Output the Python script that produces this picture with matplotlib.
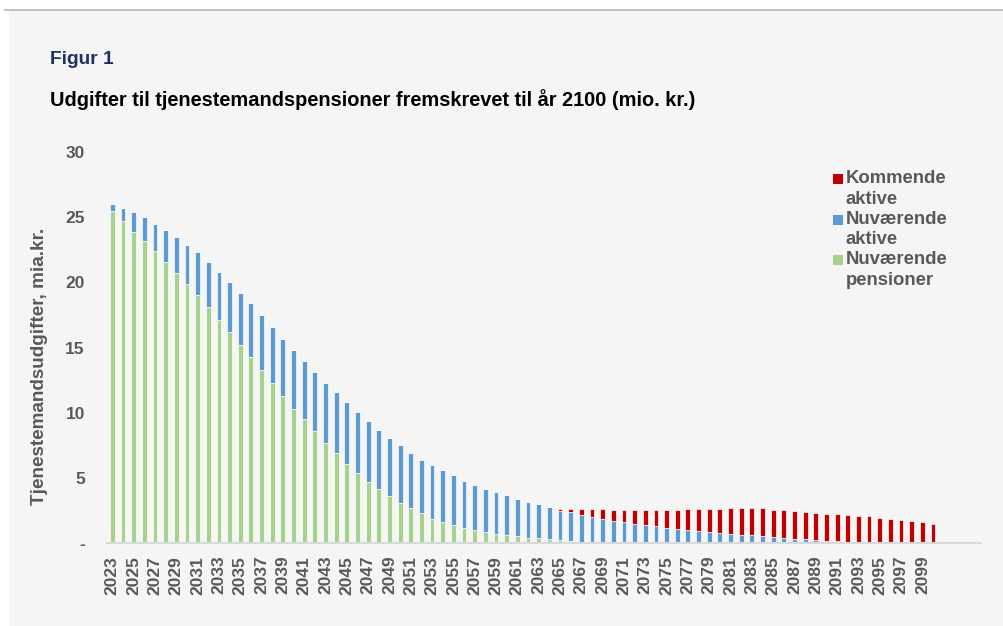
import numpy as np
import matplotlib.pyplot as plt
from matplotlib.patches import Rectangle
from matplotlib.lines import Line2D

plt.rcParams['font.family'] = ['Liberation Sans', 'DejaVu Sans']

years = list(range(2023, 2101))

# Nuværende pensioner (mia. kr.)
pensioner = [25.5, 24.7, 23.9, 23.2, 22.4, 21.6, 20.7, 19.9, 19.0, 18.1,
             17.1, 16.2, 15.2, 14.3, 13.3, 12.3, 11.3, 10.3, 9.5, 8.6,
             7.7, 6.9, 6.1, 5.4, 4.7, 4.2, 3.6, 3.1, 2.7, 2.3,
             1.9, 1.6, 1.4, 1.2, 1.0, 0.84, 0.71, 0.61, 0.54, 0.44,
             0.38, 0.3, 0.22, 0.17, 0.13, 0.1, 0.07, 0.05, 0.04, 0.03,
             0.02, 0.02, 0.01, 0.01, 0, 0, 0, 0, 0, 0,
             0, 0, 0, 0, 0, 0, 0, 0, 0, 0,
             0, 0, 0, 0, 0, 0, 0, 0]

# Nuværende aktive
aktive = [0.5, 1.0, 1.5, 1.8, 2.1, 2.4, 2.8, 3.0, 3.3, 3.5,
          3.7, 3.8, 4.0, 4.1, 4.2, 4.3, 4.4, 4.5, 4.5, 4.5,
          4.6, 4.7, 4.7, 4.7, 4.7, 4.5, 4.5, 4.4, 4.2, 4.1,
          4.1, 4.0, 3.8, 3.6, 3.5, 3.36, 3.19, 3.09, 2.86, 2.76,
          2.62, 2.45, 2.28, 2.23, 2.07, 1.9, 1.79, 1.69, 1.56, 1.47,
          1.38, 1.28, 1.19, 1.09, 1.02, 0.94, 0.87, 0.79, 0.71, 0.66,
          0.6, 0.54, 0.46, 0.4, 0.36, 0.3, 0.25, 0.2, 0.17, 0.13,
          0.1, 0.08, 0.06, 0.04, 0.03, 0.02, 0.01, 0.0]

# Kommende aktive
kommende = [0] * 42 + [
    0.1, 0.2, 0.4, 0.6, 0.74, 0.81, 0.93, 1.05, 1.15, 1.23,
    1.35, 1.45, 1.58, 1.69, 1.76, 1.86, 1.96, 2.04, 2.1, 2.13,
    2.12, 2.13, 2.09, 2.08, 2.07, 2.07, 2.05, 2.04, 2.02, 1.99,
    1.91, 1.82, 1.73, 1.67, 1.6, 1.51]

green = '#a9d18e'
blue = '#5b9bd5'
red = '#c00000'
grey = '#595959'

fig = plt.figure(figsize=(10.04, 6.26), dpi=100)
fig.patch.set_facecolor('white')
fig.patches.append(Rectangle((9 / 1004, 0), 1, 616 / 626, transform=fig.transFigure,
                             facecolor='#f5f5f5', edgecolor='none', zorder=-10))
fig.lines.append(Line2D([5 / 1004, 1], [616 / 626, 616 / 626], transform=fig.transFigure,
                        color='#b4b4b4', lw=1.2))

ax = fig.add_axes([107 / 1004, (626 - 543.3) / 626, (981 - 107) / 1004, (543.3 - 152) / 626])
ax.set_facecolor('none')

x = np.arange(len(years))
p = np.array(pensioner)
a = np.array(aktive)
k = np.array(kommende)
w = 0.45
ax.bar(x, p, w, color=green, edgecolor='white', linewidth=0.5)
ax.bar(x, a, w, bottom=p, color=blue, edgecolor='white', linewidth=0.5)
ax.bar(x, k, w, bottom=p + a, color=red, edgecolor='white', linewidth=0.5)

ax.set_xlim(-0.5, 81.5)
ax.set_ylim(0, 30)
ax.set_yticks([0, 5, 10, 15, 20, 25, 30])
ax.set_yticklabels(['-', '5', '10', '15', '20', '25', '30'])
ax.set_xticks(x[::2])
ax.set_xticklabels([str(y) for y in years[::2]], rotation=90)
ax.tick_params(axis='y', length=0, pad=16, labelsize=12.5, labelcolor=grey)
ax.tick_params(axis='x', length=0, pad=9, labelsize=12.5, labelcolor=grey)
for lab in ax.get_xticklabels() + ax.get_yticklabels():
    lab.set_fontweight('bold')
for s in ['top', 'right', 'left']:
    ax.spines[s].set_visible(False)
ax.spines['bottom'].set_color('#d9d9d9')
ax.spines['bottom'].set_linewidth(1.5)

fig.text(40 / 1004, 1 - 366 / 626, 'Tjenestemandsudgifter, mia.kr.', rotation=90,
         ha='center', va='center', fontsize=13.6, fontweight='bold', color=grey)

fig.text(50 / 1004, 1 - 60 / 626, 'Figur 1', ha='left', va='center',
         fontsize=13.8, fontweight='bold', color='#1f3064')
fig.text(50 / 1004, 1 - 100 / 626,
         'Udgifter til tjenestemandspensioner fremskrevet til år 2100 (mio. kr.)',
         ha='left', va='center', fontsize=14.4, fontweight='bold', color='black')

# legend
entries = [('Kommende\naktive', red), ('Nuværende\naktive', blue), ('Nuværende\npensioner', green)]
for i, (lab, col) in enumerate(entries):
    ytop = 170 + i * 40.5
    fig.patches.append(Rectangle((833 / 1004, 1 - (ytop + 14) / 626), 10 / 1004, 10 / 626,
                                 transform=fig.transFigure, facecolor=col, edgecolor='none'))
    fig.text(846 / 1004, 1 - ytop / 626, lab, ha='left', va='top', fontsize=13.3,
             fontweight='bold', color=grey, linespacing=1.3)

fig.savefig('out.png', dpi=100)
